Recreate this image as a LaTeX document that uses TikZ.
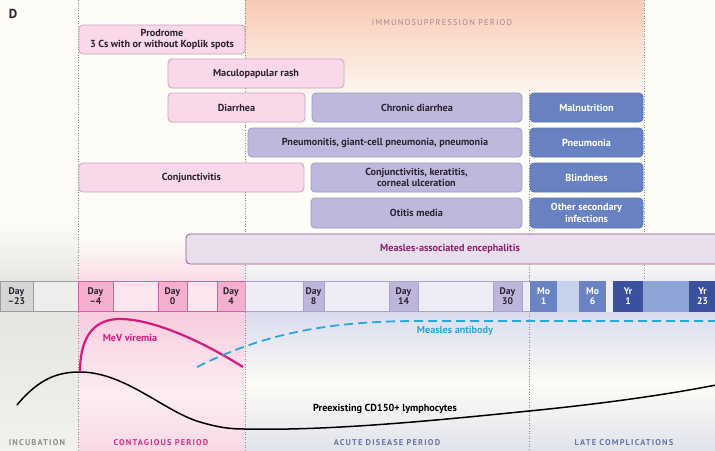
\documentclass[tikz,border=0pt]{standalone}
\usepackage{fontspec}
\setmainfont{PT Sans}
\definecolor{cream}{HTML}{FDFCF6}
\definecolor{peach}{HTML}{F8CAB5}
\definecolor{incgray}{HTML}{E3E3E1}
\definecolor{incgray2}{HTML}{F1F1ED}
\definecolor{contpink}{HTML}{F8CADD}
\definecolor{contpink2}{HTML}{FCEDF2}
\definecolor{contpink3}{HTML}{F8D9E6}
\definecolor{acblue}{HTML}{D8DBEE}
\definecolor{acblue2}{HTML}{E1E3EC}
\definecolor{divcol}{HTML}{8A8A8A}
\definecolor{boxtext}{HTML}{2A2230}
\definecolor{pinkfill}{HTML}{F9D8E9}
\definecolor{pinkline}{HTML}{C9A3C0}
\definecolor{lavfill}{HTML}{BEB9DC}
\definecolor{lavline}{HTML}{9D97C5}
\definecolor{bluefill}{HTML}{6882C1}
\definecolor{blueline}{HTML}{5A73B3}
\definecolor{encfill}{HTML}{E9DEEC}
\definecolor{encline}{HTML}{9A5489}
\definecolor{enctext}{HTML}{8A1F6C}
\definecolor{daygray}{HTML}{D6D6D6}
\definecolor{daygrayline}{HTML}{9C9C9C}
\definecolor{grayblank}{HTML}{EDEDEC}
\definecolor{dayp}{HTML}{F4AFD0}
\definecolor{daypline}{HTML}{D45E9E}
\definecolor{pblank}{HTML}{FBE6F0}
\definecolor{dayl}{HTML}{BDB6DA}
\definecolor{daylline}{HTML}{A9A3CC}
\definecolor{lblank}{HTML}{EFECF6}
\definecolor{mocol}{HTML}{6A83C2}
\definecolor{moblank}{HTML}{C6D1EB}
\definecolor{yrcol}{HTML}{3C519E}
\definecolor{yrblank}{HTML}{8EA3D6}
\definecolor{magenta}{HTML}{D41A7E}
\definecolor{cyanab}{HTML}{2AA6DC}
\definecolor{immtext}{HTML}{A8848E}
\definecolor{inctext}{HTML}{8C8C8C}
\definecolor{conttext}{HTML}{CF2F87}
\definecolor{actext}{HTML}{6874A6}
\tikzset{
  box/.style={rounded corners=4pt, line width=0.8pt, inner sep=0pt, align=center,
    font=\fontsize{10.2}{11.6}\selectfont\bfseries, text=boxtext},
  pinkbox/.style={box, fill=pinkfill, draw=pinkline},
  lavbox/.style={box, fill=lavfill, draw=lavline},
  bluebox/.style={box, fill=bluefill, draw=blueline, text=white},
  encbox/.style={box, fill=encfill, draw=encline, text=enctext},
  cellbox/.style={minimum height=30pt, inner sep=0pt, line width=0.8pt, align=center,
    font=\fontsize{9.6}{10.4}\selectfont\bfseries},
  periodlabel/.style={font=\fontsize{8.4}{9}\selectfont\bfseries\addfontfeatures{LetterSpace=14}},
  divider/.style={dotted, line width=0.6pt, color=divcol},
  curvelabel/.style={font=\fontsize{10.2}{11.6}\selectfont\bfseries}
}
\newcommand\tlbox[7]{\node[#1, minimum width={#5pt-#3pt}, minimum height={#6pt-#4pt}] (#2) at ({(#3+#5)/2},{(#4+#6)/2}) {#7};}
\newcommand\tlcell[7]{\node[cellbox, minimum width={#3pt-#2pt}, fill=#4, draw=#5, text=#6] (#1) at ({(#2+#3)/2},296) {#7};}
\begin{document}
\begin{tikzpicture}[x=1pt,y=-1pt]
\useasboundingbox (0,0) rectangle (715,450);
\clip (0,0) rectangle (715,450);
% backgrounds
\fill[cream] (0,0) rectangle (715,450);
\shade[top color=peach, bottom color=cream] (245,0) rectangle (644,105);
% incubation
\shade[top color=cream, bottom color=incgray] (0,222) rectangle (78,290);
\shade[top color=incgray, bottom color=incgray2] (0,290) rectangle (78,450);
% contagious
\shade[top color=cream, bottom color=contpink] (78,238) rectangle (245,305);
\shade[top color=contpink, bottom color=contpink2] (78,305) rectangle (245,395);
\shade[top color=contpink2, bottom color=contpink3] (78,395) rectangle (245,450);
% acute + late
\shade[top color=cream, bottom color=acblue] (245,255) rectangle (715,310);
\shade[top color=acblue, bottom color=cream] (245,310) rectangle (715,385);
\shade[top color=cream, bottom color=acblue2] (245,385) rectangle (715,450);
% dividers
\coordinate (d1t) at (78,0);   \coordinate (d1b) at (78,450);
\coordinate (d2t) at (245,0);  \coordinate (d2b) at (245,450);
\coordinate (d3t) at (529,90); \coordinate (d3b) at (529,450);
\coordinate (d4t) at (644,0);  \coordinate (d4b) at (644,281);
\draw[divider] (d1t) -- (d1b);
\draw[divider] (d2t) -- (d2b);
\draw[divider] (d3t) -- (d3b);
\draw[divider] (d4t) -- (d4b);
% titles
\node[font=\fontsize{13}{14}\selectfont\bfseries, text=boxtext] (panel) at (13,14) {D};
\node[font=\fontsize{8.4}{9}\selectfont\addfontfeatures{LetterSpace=14}, text=immtext] (imm) at (442,23) {IMMUNOSUPPRESSION PERIOD};
% symptom boxes
\tlbox{pinkbox}{prodrome}{79}{25}{245}{54}{Prodrome\\3 Cs with or without Koplik spots}
\tlbox{pinkbox}{rash}{168}{59}{344}{88}{Maculopapular rash}
\tlbox{pinkbox}{diarrhea}{168}{93}{305}{122}{Diarrhea}
\tlbox{lavbox}{chronic}{312}{93}{522}{122}{Chronic diarrhea}
\tlbox{bluebox}{malnut}{530}{93}{643}{122}{Malnutrition}
\tlbox{lavbox}{pneumonitis}{248}{128}{522}{157}{Pneumonitis, giant-cell pneumonia, pneumonia}
\tlbox{bluebox}{pneumonia}{530}{128}{643}{157}{Pneumonia}
\tlbox{pinkbox}{conj}{79}{163}{304}{192}{Conjunctivitis}
\tlbox{lavbox}{kerat}{311}{163}{522}{192}{Conjunctivitis, keratitis,\\corneal ulceration}
\tlbox{bluebox}{blind}{530}{163}{643}{192}{Blindness}
\tlbox{lavbox}{otitis}{311}{198}{522}{228}{Otitis media}
\tlbox{bluebox}{other}{530}{198}{643}{228}{Other secondary\\infections}
\tlbox{encbox}{enceph}{186}{234}{725}{264}{}
\node[box, text=enctext] (enctxt) at (450,249) {Measles-associated encephalitis};
% timeline bar
\tlcell{c1}{0}{33}{daygray}{daygrayline}{boxtext}{Day\\–23}
\tlcell{c2}{33}{78}{grayblank}{daygrayline}{boxtext}{}
\tlcell{c4}{113}{158}{pblank}{daypline}{boxtext}{}
\tlcell{c6}{187}{217}{pblank}{daypline}{boxtext}{}
\tlcell{c3}{78}{113}{dayp}{daypline}{boxtext}{Day\\–4}
\tlcell{c5}{158}{187}{dayp}{daypline}{boxtext}{Day\\0}
\tlcell{c7}{217}{245}{dayp}{daypline}{boxtext}{Day\\4}
\tlcell{c8}{245}{303}{lblank}{daylline}{boxtext}{}
\tlcell{c10}{324}{389}{lblank}{daylline}{boxtext}{}
\tlcell{c12}{418}{493}{lblank}{daylline}{boxtext}{}
\tlcell{c14}{522}{530}{lblank}{daylline}{boxtext}{}
\tlcell{c9}{303}{324}{dayl}{daylline}{boxtext}{Day\\8}
\tlcell{c11}{389}{418}{dayl}{daylline}{boxtext}{Day\\14}
\tlcell{c13}{493}{522}{dayl}{daylline}{boxtext}{Day\\30}
\tlcell{c15}{530}{557}{mocol}{mocol}{white}{Mo\\1}
\tlcell{c16}{557}{579}{moblank}{moblank}{white}{}
\tlcell{c17}{579}{606}{mocol}{mocol}{white}{Mo\\6}
\tlcell{c18}{606}{613}{lblank}{lblank}{white}{}
\tlcell{c19}{613}{643}{yrcol}{yrcol}{white}{Yr\\1}
\tlcell{c20}{643}{689}{yrblank}{yrblank}{white}{}
\tlcell{c21}{689}{716}{yrcol}{yrcol}{white}{Yr\\23}
% curves
\coordinate (lstart) at (17,405);
\coordinate (lpeak) at (80,372);
\coordinate (lmid) at (245,429);
\coordinate (llate) at (529,411);
\coordinate (lend) at (716,385);
\draw[line width=1.5pt, black] (lstart) .. controls (40,377) and (60,372) .. (lpeak)
  .. controls (125,372) and (165,412) .. (200,422)
  .. controls (220,428) and (232,429) .. (lmid)
  .. controls (330,431) and (440,420) .. (llate)
  .. controls (600,404) and (665,395) .. (lend);
\coordinate (vend) at (243,367);
\draw[line width=2.2pt, magenta] (lpeak) .. controls (80,334) and (96,319) .. (120,319)
  .. controls (152,319) and (200,340) .. (vend);
\coordinate (abstart) at (197,367);
\coordinate (abend) at (716,321);
\draw[line width=1.8pt, cyanab, dash pattern=on 9pt off 5pt] (abstart) .. controls (265,333) and (330,321) .. (420,321) -- (abend);
\node[curvelabel, text=magenta] (mev) at (130,338) {MeV viremia};
\node[curvelabel, text=cyanab] (ab) at (455,331) {Measles antibody};
\node[curvelabel, text=black] (lym) at (385,409) {Preexisting CD150+ lymphocytes};
% period labels
\node[periodlabel, text=inctext] (inc) at (37,443) {INCUBATION};
\node[periodlabel, text=conttext] (cont) at (161,443) {CONTAGIOUS PERIOD};
\node[periodlabel, text=actext] (acute) at (387,443) {ACUTE DISEASE PERIOD};
\node[periodlabel, text=actext] (late) at (624,443) {LATE COMPLICATIONS};
\end{tikzpicture}
\end{document}
